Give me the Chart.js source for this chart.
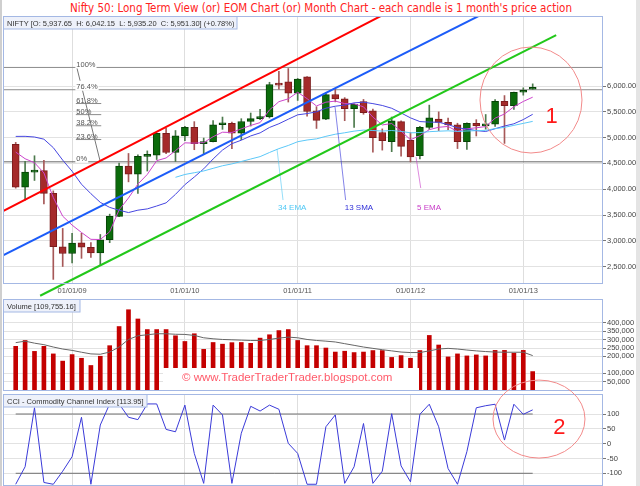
<!DOCTYPE html>
<html>
<head>
<meta charset="utf-8">
<title>Nifty 50 month chart</title>
<script src="https://cdn.jsdelivr.net/npm/chart.js@4.4.1/dist/chart.umd.min.js"></script>
<style>
body { margin: 0; background: #fff; }
#page { position: relative; width: 640px; height: 486px; overflow: hidden; background: #fff; }
#page canvas { position: absolute; left: 0; top: 0; }
#title { position: absolute; left: 0; top: 1px; width: 642px; text-align: center; white-space: nowrap;
  font: 11.5px 'Liberation Sans Narrow', 'DejaVu Sans Condensed', sans-serif; color: #f22; }
#edgeL { position: absolute; left: 0; top: 0; width: 2px; height: 486px; background: #cfcfcf; }
#edgeR { position: absolute; right: 0; top: 0; width: 4px; height: 486px; background: #e4e4e4; }
</style>
</head>
<body>
<div id="page">
  <div id="edgeL"></div><div id="edgeR"></div>
  <div id="title">Nifty 50: Long Term View (or) EOM Chart (or) Month Chart - each candle is 1 month's price action</div>
  <canvas id="priceChart" width="640" height="486"></canvas>
  <canvas id="volumeChart" width="640" height="486"></canvas>
  <canvas id="cciChart" width="640" height="486"></canvas>
</div>
<script>
// Candles Jun 2008 .. Jan 2013, one candle per month (index 0 = Jun 2008)
const opens  = [4870,4040,4333,4360,3921,2886,2755,2963,2875,2764,3021,3474,4450,4292,4637,4662,5084,4711,5032,5200,4882,4922,5249,5278,5086,5313,5368,5402,6030,6080,5862,6177,5520,5360,5835,5750,5560,5700,5520,5100,4920,5310,4950,4650,5199,5360,5296,5248,4924,5279,5229,5259,5705,5620,5880,5938];
const highs  = [4908,4539,4649,4558,3968,3240,3147,3147,2966,3123,3517,4509,4693,4669,4743,5087,5181,5138,5221,5310,4992,5329,5399,5300,5367,5477,5549,6073,6284,6339,6147,6181,5600,5872,5944,5775,5657,5740,5551,5169,5399,5326,5099,5217,5630,5499,5378,5279,5286,5348,5448,5735,5815,5885,5965,6042];
const lows   = [4021,3790,4170,3715,2253,2503,2570,2661,2677,2539,2965,3468,4143,3919,4353,4576,4687,4538,4943,4766,4675,4918,5160,4786,4961,5225,5348,5380,5937,5690,5721,5416,5178,5348,5693,5328,5196,5453,4720,4758,4728,4639,4531,4588,5159,5135,5154,4788,4770,5032,5164,5215,4888,5548,5823,5935];
const closes = [4040,4333,4360,3921,2886,2755,2959,2875,2764,3021,3474,4449,4291,4636,4662,5084,4712,5033,5201,4882,4922,5249,5278,5086,5313,5368,5402,6030,6018,5863,6135,5506,5333,5834,5750,5560,5647,5482,5001,4943,5327,4832,4624,5199,5385,5296,5248,4924,5279,5229,5259,5703,5620,5880,5905,5951];

// moving averages
const ema5  = [4720,4591,4514,4316,3839,3478,3305,3162,3029,3026,3175,3600,3830,4099,4287,4553,4606,4748,4899,4893,4903,5018,5105,5099,5170,5236,5291,5537,5697,5752,5880,5755,5614,5687,5708,5659,5655,5597,5398,5246,5273,5126,4959,5039,5154,5201,5217,5119,5172,5191,5214,5377,5458,5599,5701,5784];
const sma13 = [5024,5025,5012,4970,4806,4564,4348,4097,3914,3745,3648,3593,3548,3594,3619,3675,3736,3901,4089,4237,4395,4586,4759,4883,4950,5033,5092,5197,5269,5357,5442,5466,5500,5570,5609,5631,5674,5687,5659,5623,5569,5478,5383,5311,5301,5298,5253,5190,5168,5136,5119,5173,5225,5268,5350,5452];
const ema34 = [null,null,null,null,null,null,null,null,null,null,null,null,null,null,null,null,null,4231,4286,4320,4354,4405,4455,4491,4538,4585,4632,4712,4787,4848,4921,4954,4976,5025,5066,5094,5126,5146,5138,5127,5138,5121,5093,5099,5115,5125,5132,5120,5129,5135,5142,5174,5199,5238,5276,5315];

// volume (shares) and its average line
const volumes   = [260000,295000,230000,260000,215000,172000,211000,189000,146000,201000,264000,378000,478000,423000,360000,360000,360000,323000,289000,335000,242000,283000,273000,282000,283000,278000,309000,329000,354000,360000,295000,264000,264000,250000,226000,231000,223000,226000,235000,235000,194000,205000,189000,235000,325000,268000,197000,215000,203000,209000,203000,236000,236000,219000,236000,109755];
const volumeAvg = [282000,291000,279000,270000,256000,244000,236000,225000,215000,213000,226000,256000,301000,323000,329000,335000,335000,332000,331000,325000,311000,305000,301000,299000,297000,295000,295000,301000,309000,315000,311000,301000,295000,291000,286000,276000,266000,256000,248000,240000,233000,226000,223000,223000,233000,244000,248000,244000,238000,233000,229000,226000,225000,225000,225000,205000];

// CCI
const cci = [-137,-78,121,-131,-137,-93,-44,89,-137,63,134,134,89,81,134,134,48,40,130,-33,-134,130,97,-134,35,126,110,130,116,1,-33,-137,-137,57,97,-134,-78,68,-134,-93,101,-75,-129,99,133,57,-84,-137,-27,121,128,133,12,133,99,114];

// axes
const dateTicks  = [6, 18, 30, 42, 54];
const dateLabels = ['01/01/09', '01/01/10', '01/01/11', '01/01/12', '01/01/13'];
const priceTicks = [2500, 3000, 3500, 4000, 4500, 5000, 5500, 6000];
const volumeTicks = [50000, 100000, 200000, 250000, 300000, 350000, 400000];
const cciTicks = [-100, -50, 0, 50, 100];

// drawn tools: trend channel, fibonacci levels, MA captions
const redLine   = [[-2, 3517], [45, 7935]];
const blueLine  = [[-2, 2661], [55, 7883]];
const greenLine = [[2.6, 1936], [57.5, 6987]];
const fibNames  = ['100%', '76.4%', '61.8%', '50%', '38.2%', '23.6%', '0%'];
const fibPrices = [6360, 5928, 5661, 5446, 5230, 4963, 4531];
const fibLong   = [true, true, false, false, false, false, true];
const fibSpan   = [6.4, 9.1];
const fibDiag   = [[6.5, 6360], [9.0, 4531]];
const maNames   = ['34 EMA', '13 SMA', '5 EMA'];
const maColors  = ['#4fc8f5', '#3030d8', '#c83cc8'];
const maPointers = [[[28.44, 3791], [27.8, 4779]], [[35.1, 3791], [33.97, 5599]], [[43.09, 4023], [42.59, 4624]]];
const maLabelX  = [27.9, 35.0, 42.7];
const maLabelY  = 3640;

const xMin = -1.351, xMax = 62.48;
const FONT = "'Liberation Sans', Arial, sans-serif";
Chart.defaults.font.family = FONT;
Chart.defaults.font.size = 7.5;
Chart.defaults.color = '#444';
Chart.defaults.animation = false;
Chart.defaults.events = [];
Chart.defaults.plugins.legend.display = false;
Chart.defaults.plugins.tooltip.enabled = false;

const up = i => closes[i] >= opens[i];
const pts = arr => arr.map(p => ({ x: p[0], y: p[1] }));
const series = arr => arr.map((v, i) => ({ x: i, y: v })).filter(p => p.y !== null);

function xScale(showLabels, h) {
    return {
        type: 'linear', min: xMin, max: xMax, offset: false,
        grid: { color: '#dedede', drawTicks: false, offset: false },
        border: { display: false },
        afterBuildTicks: s => { s.ticks = dateTicks.map(v => ({ value: v })); },
        afterFit: s => { s.height = h; s.paddingLeft = 0; s.paddingRight = 0; },
        ticks: { display: showLabels, autoSkip: false, maxRotation: 0, padding: 3, color: '#555',
                 callback: v => dateLabels[dateTicks.indexOf(v)] }
    };
}

function yScale(min, max, values, fmt) {
    return {
        position: 'right', min: min, max: max,
        grid: { color: '#e2e2e2', tickColor: '#777', tickLength: 3 },
        border: { display: false },
        afterBuildTicks: s => { s.ticks = values.map(v => ({ value: v })); },
        afterFit: s => { s.width = 37; s.paddingTop = 0; s.paddingBottom = 0; },
        ticks: { autoSkip: false, padding: 1, color: '#444', callback: fmt }
    };
}

// panel frame + caption box in the top left corner
function frame(ctx, a, caption, boxW) {
    ctx.save();
    ctx.strokeStyle = '#a4b8e4';
    ctx.lineWidth = 1;
    ctx.strokeRect(a.left + 0.5, a.top + 0.5, a.right - a.left - 1, a.bottom - a.top);
    ctx.fillStyle = '#eef1fa';
    ctx.fillRect(a.left + 1, a.top + 1, boxW, 12);
    ctx.strokeRect(a.left + 0.5, a.top + 0.5, boxW + 0.5, 12.5);
    ctx.fillStyle = '#333';
    ctx.font = '7.5px ' + FONT;
    ctx.textBaseline = 'middle';
    ctx.fillText(caption, a.left + 4, a.top + 7.5);
    ctx.restore();
}

function lineSet(data, color, width, order, extra) {
    return Object.assign({ type: 'line', data: data, borderColor: color, borderWidth: width,
        pointRadius: 0, tension: 0, order: order }, extra || {});
}

// ---------- price panel ----------
const priceSets = [
    { type: 'bar', data: lows.map((l, i) => ({ x: i, y: [l, highs[i]] })),
      backgroundColor: ctx => up(ctx.dataIndex) ? '#4d7a4d' : '#a65858',
      barThickness: 1, grouped: false, order: 10 },
    { type: 'bar', data: opens.map((o, i) => ({ x: i, y: [o, closes[i]] })),
      backgroundColor: ctx => up(ctx.dataIndex) ? '#0b6b0b' : '#a52a2a',
      borderColor: ctx => up(ctx.dataIndex) ? '#064206' : '#7b1c1c',
      borderWidth: 1, borderSkipped: false, minBarLength: 2,
      barThickness: 7, grouped: false, order: 9 },
    lineSet(series(ema34), '#5cc8f8', 1, 5),
    lineSet(series(sma13), '#4646e0', 1, 5),
    lineSet(series(ema5), '#cc44cc', 1, 5),
    lineSet(pts(redLine), '#ff0000', 2, 1),
    lineSet(pts(blueLine), '#1c5cf8', 2, 1),
    lineSet(pts(greenLine), '#22c81a', 2, 1, { clip: false }),
    lineSet(pts(fibDiag), '#777', 1, 15)
];
fibPrices.forEach((p, i) => {
    const span = fibLong[i] ? [xMin - 1, xMax + 1] : fibSpan;
    priceSets.push(lineSet([{ x: span[0], y: p }, { x: span[1], y: p }],
        i === fibPrices.length - 1 ? '#666' : '#8c8c8c', 1, 20));
});
maPointers.forEach((p, i) => {
    priceSets.push(lineSet(pts(p), maColors[i] + '99', 1, 4));
});

new Chart(document.getElementById('priceChart'), {
    type: 'bar',
    data: { datasets: priceSets },
    options: {
        responsive: false,
        layout: { padding: { top: 16, left: 3, right: 0, bottom: 189 } },
        scales: {
            x: xScale(true, 14),
            y: yScale(2183, 7357, priceTicks,
                v => v.toLocaleString('en-US', { minimumFractionDigits: 2, maximumFractionDigits: 2 }))
        }
    },
    plugins: [{
        id: 'priceDeco',
        afterDatasetsDraw(chart) {
            const ctx = chart.ctx, xs = chart.scales.x, ys = chart.scales.y;
            ctx.save();
            ctx.font = '7.5px ' + FONT;
            ctx.textBaseline = 'bottom';
            fibNames.forEach((name, i) => {
                const x = xs.getPixelForValue(fibSpan[0]) + 0.5;
                const y = ys.getPixelForValue(fibPrices[i]);
                if (fibLong[i]) {
                    ctx.fillStyle = '#fff';
                    ctx.fillRect(x - 1, y - 9, ctx.measureText(name).width + 2, 10);
                }
                ctx.fillStyle = '#555';
                ctx.fillText(name, x, y + 1);
            });
            ctx.font = '8px ' + FONT;
            ctx.textBaseline = 'middle';
            maNames.forEach((name, i) => {
                ctx.fillStyle = maColors[i];
                ctx.fillText(name, xs.getPixelForValue(maLabelX[i]), ys.getPixelForValue(maLabelY));
            });
            // highlight ring 1
            ctx.strokeStyle = '#f28a8a';
            ctx.lineWidth = 1;
            ctx.beginPath();
            ctx.ellipse(xs.getPixelForValue(54.82), ys.getPixelForValue(5729), 51, 53, 0, 0, Math.PI * 2);
            ctx.stroke();
            ctx.fillStyle = '#ff1a1a';
            ctx.font = '22px ' + FONT;
            ctx.textAlign = 'center';
            ctx.fillText('1', xs.getPixelForValue(57.02), ys.getPixelForValue(5405));
            ctx.restore();
        },
        afterDraw(chart) {
            frame(chart.ctx, chart.chartArea,
                'NIFTY [O: 5,937.65  H: 6,042.15  L: 5,935.20  C: 5,951.30] (+0.78%)', 233);
        }
    }]
});

// ---------- volume panel ----------
new Chart(document.getElementById('volumeChart'), {
    type: 'bar',
    data: { datasets: [
        { type: 'bar', data: series(volumes), backgroundColor: '#c40000', barThickness: 4, order: 5 },
        lineSet(series(volumeAvg), '#666', 1, 1)
    ] },
    options: {
        responsive: false,
        layout: { padding: { top: 299, left: 3, right: 0, bottom: 96 } },
        scales: {
            x: xScale(false, 0),
            y: yScale(0, 542000, volumeTicks, v => v.toLocaleString('en-US'))
        }
    },
    plugins: [{
        id: 'volumeDeco',
        afterDatasetsDraw(chart) {
            const ctx = chart.ctx, a = chart.chartArea;
            ctx.save();
            ctx.fillStyle = '#fff';
            ctx.fillRect(a.left + 160, a.bottom - 22, 256, 22);
            ctx.fillStyle = '#ff5a6a';
            ctx.font = '11.5px ' + FONT;
            ctx.textBaseline = 'alphabetic';
            ctx.fillText('\u00a9 www.TraderTraderTrader.blogspot.com', a.left + 179, a.bottom - 9);
            ctx.restore();
        },
        afterDraw(chart) {
            frame(chart.ctx, chart.chartArea, 'Volume [109,755.16]', 76);
        }
    }]
});

// ---------- CCI panel ----------
new Chart(document.getElementById('cciChart'), {
    type: 'line',
    data: { datasets: [
        lineSet(series(cci), '#3a3ad8', 1, 1),
        lineSet([{ x: 0, y: 100 }, { x: 55, y: 100 }], '#707070', 1, 5),
        lineSet([{ x: 0, y: -100 }, { x: 55, y: -100 }], '#707070', 1, 5)
    ] },
    options: {
        responsive: false,
        layout: { padding: { top: 394, left: 3, right: 0, bottom: 1 } },
        scales: {
            x: xScale(false, 0),
            y: yScale(-139.5, 167.5, cciTicks, v => String(v))
        }
    },
    plugins: [{
        id: 'cciDeco',
        afterDraw(chart) {
            const ctx = chart.ctx, xs = chart.scales.x, ys = chart.scales.y;
            frame(ctx, chart.chartArea, 'CCI - Commodity Channel Index [113.95]', 143);
            // highlight ring 2
            ctx.save();
            ctx.strokeStyle = '#f28a8a';
            ctx.lineWidth = 1;
            ctx.beginPath();
            ctx.ellipse(xs.getPixelForValue(55.67), ys.getPixelForValue(83), 46, 39, 0, 0, Math.PI * 2);
            ctx.stroke();
            ctx.fillStyle = '#ff1a1a';
            ctx.font = '22px ' + FONT;
            ctx.textAlign = 'center';
            ctx.textBaseline = 'middle';
            ctx.fillText('2', xs.getPixelForValue(57.83), ys.getPixelForValue(51.8));
            ctx.restore();
        }
    }]
});
</script>
</body>
</html>
